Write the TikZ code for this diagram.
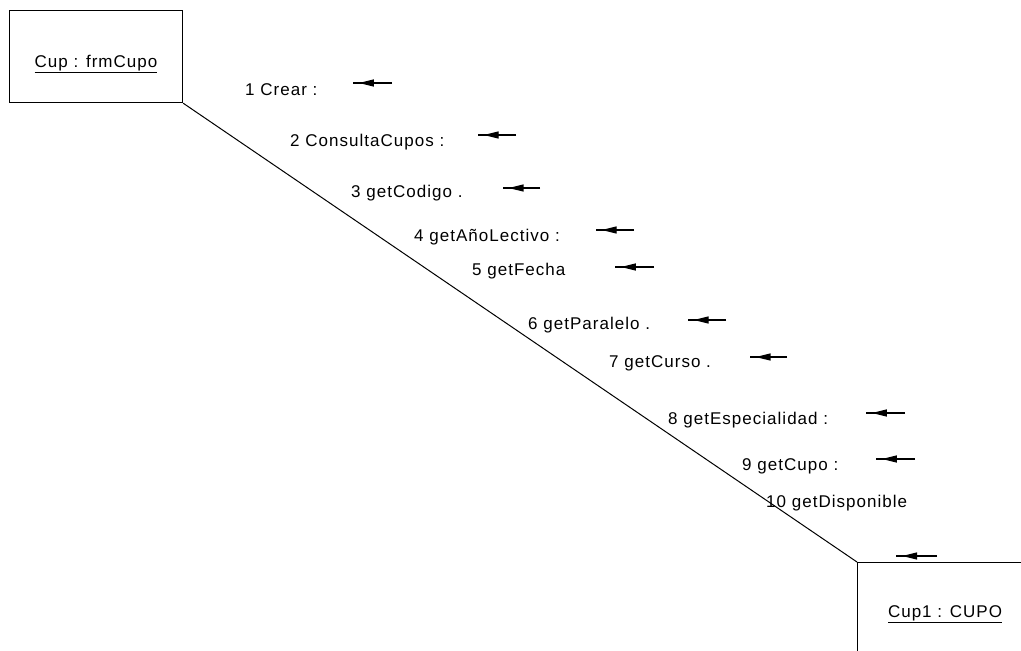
\documentclass[tikz,border=0pt]{standalone}
\usepackage{fontspec}
\setmainfont{Liberation Sans}
\newfontfamily\lblfont[LetterSpace=6]{Liberation Sans}
\usetikzlibrary{arrows.meta}
\begin{document}
\begin{tikzpicture}[x=1pt,y=-1pt,
  objbox/.style={draw=black,line width=1.2pt,minimum width=173pt,minimum height=92pt,inner sep=0pt,anchor=north west},
  objtext/.style={font=\lblfont\fontsize{17}{20}\selectfont,inner sep=0pt},
  msg/.style={font=\lblfont\fontsize{17}{20}\selectfont,inner sep=0pt,anchor=west},
  link/.style={draw=black,line width=1pt},
  msgarrow/.style={draw=black,line width=1.3pt,-{Triangle[length=15pt,width=7pt]}},
  msgtail/.style={draw=black,line width=1.3pt}]
\useasboundingbox (0,0) rectangle (1021,651);
\fill[white] (0,0) rectangle (1021,651);
\clip (0,0) rectangle (1021,651);
% objects
\node[objbox] (b1) at (9,10) {};
\node[objtext] (t1) at (96,64) {\underline{Cup : frmCupo}};
\node[objbox,minimum width=200pt,minimum height=120pt] (b2) at (857,562) {};
\node[objtext] (t2) at (945,614) {\underline{Cup1 : CUPO}};
% link
\draw[link] (b1.south east) -- (b2.north west);
% messages
\node[msg] (m1) at (245,90) {1 Crear :};
\node[msg] (m2) at (290,142) {2 ConsultaCupos :};
\node[msg] (m3) at (351,193) {3 getCodigo .};
\node[msg] (m4) at (414,237) {4 getAñoLectivo :};
\node[msg] (m5) at (472,271) {5 getFecha};
\node[msg] (m6) at (528,325) {6 getParalelo .};
\node[msg] (m7) at (609,363) {7 getCurso .};
\node[msg] (m8) at (668,420) {8 getEspecialidad :};
\node[msg] (m9) at (742,466) {9 getCupo :};
\node[msg] (m10) at (766,503) {10 getDisponible};
% arrows
\foreach \n/\xa/\xb/\yy in {a1/353/392/83, a2/478/516/135, a3/503/540/188, a4/596/634/230, a5/615/654/267, a6/688/726/320, a7/750/787/357, a8/866/905/413, a9/876/915/459, a10/896/937/556}{
  \coordinate (\n l) at (\xa,\yy);
  \coordinate (\n r) at (\xb,\yy);
  \coordinate (\n m) at ({\xa+0.15*(\xb-\xa)},\yy);
  \coordinate (\n k) at ({\xa+0.30*(\xb-\xa)},\yy);
  \draw[msgarrow] (\n r) -- (\n m);
  \draw[msgtail] (\n k) -- (\n l);
}
\end{tikzpicture}
\end{document}
